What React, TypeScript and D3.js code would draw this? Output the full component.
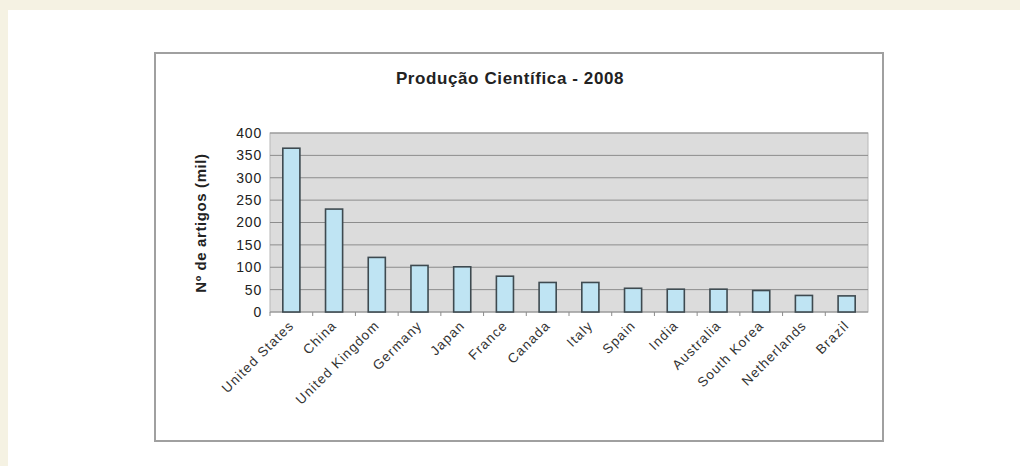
import React from "react";
import * as d3 from "d3";

const countries = ["United States", "China", "United Kingdom", "Germany", "Japan", "France", "Canada", "Italy", "Spain", "India", "Australia", "South Korea", "Netherlands", "Brazil"];
const articles = [366, 230, 122, 104, 101, 80, 66, 66, 53, 51, 51, 48, 37, 36];
const yTicks = [0, 50, 100, 150, 200, 250, 300, 350, 400];
const title = "Produção Científica - 2008";
const yLabel = "Nº de artigos (mil)";

export default function App() {
  const W = 1020, H = 466;
  const plot = { left: 270, right: 868, top: 133, bottom: 312 };
  const x = d3.scaleBand<string>().domain(countries).range([plot.left, plot.right]).paddingInner(0.6).paddingOuter(0.3);
  const xb = d3.scaleBand<string>().domain(countries).range([plot.left, plot.right]);
  const y = d3.scaleLinear().domain([0, 400]).range([plot.bottom, plot.top]);
  const font = "Arial, 'Liberation Sans', Helvetica, sans-serif";
  return (
    <svg width={W} height={H} style={{ position: "absolute", left: 0, top: 0 }} fontFamily={font}>
      <rect x={0} y={0} width={W} height={H} fill="#f5f2e3" />
      <rect x={8} y={10} width={W - 8} height={H - 10} fill="#ffffff" />
      <rect x={155} y={53} width={728} height={388} fill="#ffffff" stroke="#a0a0a0" strokeWidth={2} />
      <text x={510} y={84} textAnchor="middle" fontSize={17} fontWeight="bold" letterSpacing={0.6} fill="#222">{title}</text>
      <rect x={plot.left} y={plot.top} width={plot.right - plot.left} height={plot.bottom - plot.top} fill="#dcdcdc" stroke="#b8b8b8" strokeWidth={1} />
      {yTicks.filter(t => t > 0).map(t => (
        <line key={t} x1={plot.left} x2={plot.right} y1={y(t)} y2={y(t)} stroke="#8c8c8c" strokeWidth={1} />
      ))}
      <line x1={plot.left} x2={plot.right} y1={y(0)} y2={y(0)} stroke="#8c8c8c" strokeWidth={1} />
      {countries.map((c) => (
        <line key={"t" + c} x1={xb(c)!} x2={xb(c)!} y1={plot.bottom} y2={plot.bottom + 4} stroke="#8c8c8c" />
      ))}
      {yTicks.map(t => (
        <text key={"y" + t} x={262} y={y(t)} dy="0.35em" textAnchor="end" fontSize={14} letterSpacing={0.8} fill="#222">{t}</text>
      ))}
      <text transform={`translate(206,223) rotate(-90)`} textAnchor="middle" fontSize={15} fontWeight="bold" letterSpacing={0.6} fill="#222">{yLabel}</text>
      {countries.map((c, i) => (
        <rect key={c} x={x(c)!} y={y(articles[i])} width={x.bandwidth()} height={y(0) - y(articles[i])} fill="#bfe4f3" stroke="#3e4a50" strokeWidth={1.6} />
      ))}
      {countries.map((c) => {
        const cx = x(c)! + x.bandwidth() / 2;
        return (
          <text key={"l" + c} transform={`translate(${cx},${plot.bottom + 11}) rotate(-45)`} textAnchor="end" dy="0.35em" fontSize={13.5} letterSpacing={1.1} fill="#333">{c}</text>
        );
      })}
    </svg>
  );
}
